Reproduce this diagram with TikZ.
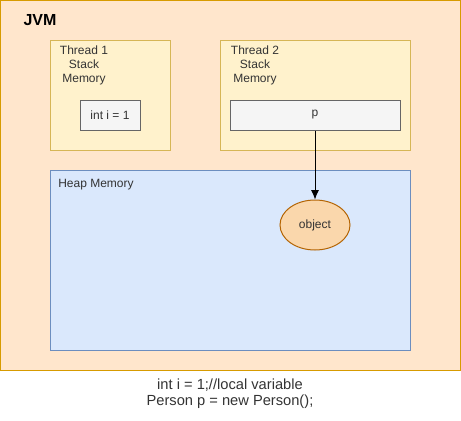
\documentclass[tikz,border=0pt]{standalone}
\usepackage{fontspec}
\setmainfont{Liberation Sans}
\usetikzlibrary{shapes.geometric,arrows.meta}

\definecolor{jvm area}{HTML}{FFE6CC}
\definecolor{jvm edge}{HTML}{D79B00}
\definecolor{stack area}{HTML}{FFF2CC}
\definecolor{stack edge}{HTML}{D6B656}
\definecolor{var area}{HTML}{F5F5F5}
\definecolor{var edge}{HTML}{666666}
\definecolor{heap area}{HTML}{DAE8FC}
\definecolor{heap edge}{HTML}{6C8EBF}
\definecolor{obj area}{HTML}{FAD7AC}
\definecolor{obj edge}{HTML}{B46504}
\definecolor{label text}{HTML}{333333}

\tikzset{
  box/.style={rectangle, line width=0.75pt, inner sep=0pt},
  jvmbox/.style={box, fill=jvm area, draw=jvm edge},
  stackbox/.style={box, fill=stack area, draw=stack edge},
  varbox/.style={box, fill=var area, draw=var edge, text=label text, font=\fontsize{9}{11}\selectfont},
  heapbox/.style={box, fill=heap area, draw=heap edge},
  label/.style={align=center, text=label text, font=\fontsize{9}{10.5}\selectfont, inner sep=0pt}
  }
\tikzstyle{pointer} = [draw, line width=0.75pt, -{Latex[length=7pt,width=6pt]}]
\tikzstyle{object}=[ellipse, fill=obj area, draw=obj edge, line width=0.75pt, inner sep=0pt, text=label text, font=\fontsize{9}{11}\selectfont]

\begin{document}
\begin{tikzpicture}[x=0.75pt, y=-0.75pt]
    \useasboundingbox (0,0) rectangle (461,421);

    % The whole machine
    \node[jvmbox, minimum width=345pt, minimum height=277.5pt] (jvm) at (230,185) {};
    \node[font=\bfseries\fontsize{12}{14}\selectfont, inner sep=0pt] (jvmlabel) at (40,20) {JVM};

    % The two stacks
    \foreach \pos/\name/\boxw in {{(110,95)/thread1/90pt}, {(315,95)/thread2/142.5pt}}
      \node[stackbox, minimum width=\boxw, minimum height=82.5pt] (\name) at \pos {};
    \node[label] (t1label) at (84,65) {Thread 1\\Stack\\Memory};
    \node[label] (t2label) at (255,65) {Thread 2\\Stack\\Memory};

    % The variables on them
    \node[varbox, minimum width=45pt, minimum height=22.5pt] (ivar) at (110,115) {int i = 1};
    \node[varbox, minimum width=127.5pt, minimum height=22.5pt] (pvar) at (315,115) {p};

    % The heap and what lives there
    \node[heapbox, minimum width=270pt, minimum height=135pt] (heap) at (230,260) {};
    \node[label, anchor=west] (heaplabel) at (58,185) {Heap Memory};
    \node[object, minimum width=52.5pt, minimum height=37.5pt] (obj) at (315,225) {object};

    % The reference
    \path[pointer] (pvar) -- (obj);

    % The code below
    \node[label, font=\fontsize{11}{12}\selectfont] (code) at (230,394) {int i = 1;//local variable\\Person p = new Person();};
\end{tikzpicture}
\end{document}
